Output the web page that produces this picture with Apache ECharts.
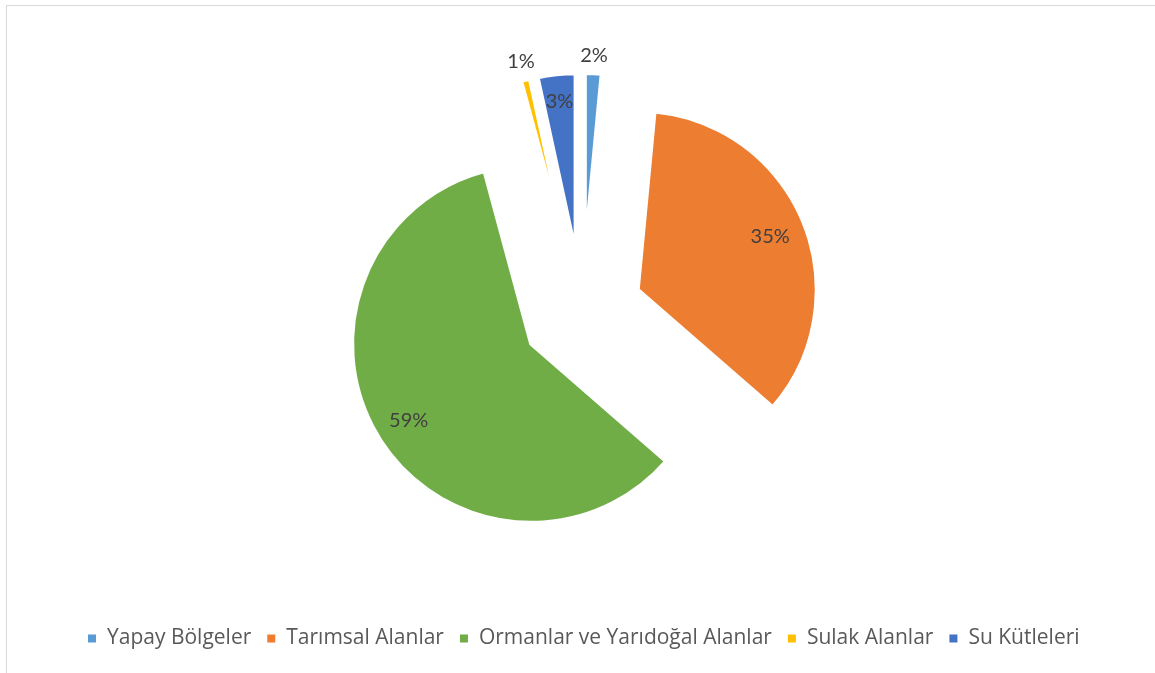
<!DOCTYPE html>
<html>
<head>
<meta charset="utf-8">
<script src="https://cdn.jsdelivr.net/npm/echarts@6/dist/echarts.min.js"></script>
<style>
html,body{margin:0;padding:0;background:#fff;}
#frame{position:absolute;left:6px;top:5px;width:1160px;height:680px;border:1px solid #d9d9d9;box-sizing:border-box;}
#chart{position:absolute;left:0;top:0;width:1155px;height:673px;}
</style>
</head>
<body>
<div id="frame"></div>
<div id="chart"></div>
<script>
const categories = ['Yapay Bölgeler', 'Tarımsal Alanlar', 'Ormanlar ve Yarıdoğal Alanlar', 'Sulak Alanlar', 'Su Kütleleri'];
const values = [1.5, 34.9, 59.4, 0.8, 3.4];
const colors = ['#5B9BD5', '#ED7D31', '#70AD47', '#FFC000', '#4472C4'];

const R = 179;
const EXPLODE = 60;
// label distance from slice vertex, as fraction of radius (Excel best-fit look)
const labelFrac = [1.08, 0.78, 0.79, 1.09, 0.83];

const total = values.reduce((a, b) => a + b, 0);
const midAngles = [];
let acc = 0;
values.forEach(v => { midAngles.push((acc + v / 2) / total * 2 * Math.PI); acc += v; });

const chart = echarts.init(document.getElementById('chart'), null, {renderer: 'canvas'});
const labelFont = 'Lato, "Open Sans", "Noto Sans", sans-serif';
const legendFont = '"Open Sans", Lato, "Noto Sans", sans-serif';

chart.setOption({
  animation: false,
  color: colors,
  legend: {
    bottom: 19,
    left: 81,
    icon: 'path://M0,0h8v8h-8z',
    itemWidth: 20,
    itemHeight: 10,
    itemGap: 14,
    textStyle: {color: '#595959', fontSize: 21, fontFamily: legendFont},
    data: categories
  },
  series: [{
    type: 'pie',
    center: [582, 312],
    radius: R,
    startAngle: 90,
    clockwise: true,
    selectedMode: 'multiple',
    selectedOffset: EXPLODE,
    avoidLabelOverlap: false,
    emphasis: {disabled: true},
    itemStyle: {borderColor: '#fff', borderWidth: 4},
    select: {itemStyle: {borderColor: '#fff', borderWidth: 4}},
    label: {
      show: true,
      position: 'inside',
      color: '#404040',
      fontSize: 20,
      fontFamily: labelFont,
      formatter: p => Math.round(p.value / total * 100) + '%'
    },
    labelLine: {show: false},
    labelLayout: function (p) {
      const i = p.dataIndex;
      const a = midAngles[i];
      const shift = (labelFrac[i] - 0.5) * R;
      return {dx: shift * Math.sin(a), dy: -shift * Math.cos(a)};
    },
    data: categories.map((c, i) => ({name: c, value: values[i], selected: true}))
  }]
});
</script>
</body>
</html>
